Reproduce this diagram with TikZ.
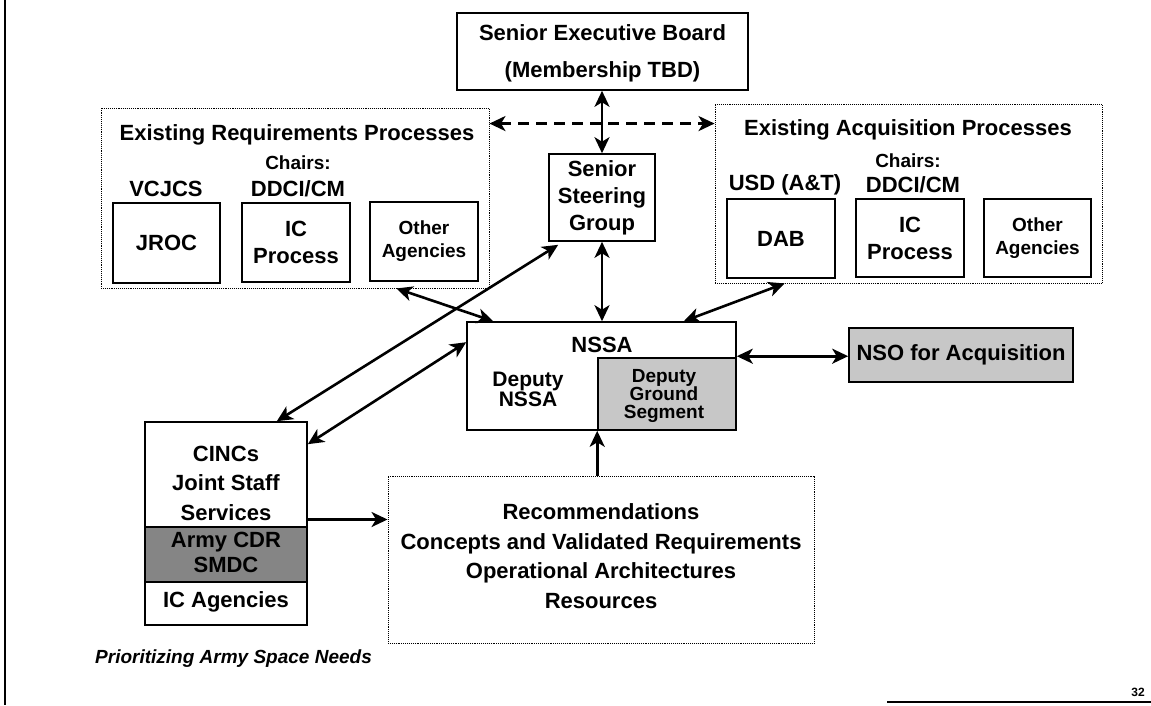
\documentclass[tikz,border=0pt]{standalone}
\usepackage{fontspec}
\setmainfont{Liberation Sans}
\usetikzlibrary{arrows.meta,calc}
\tikzset{
  box/.style={draw, line width=1.6pt, inner sep=0pt, align=center},
  dotbox/.style={draw, densely dotted, line width=0.9pt, inner sep=0pt},
  big/.style={font=\fontsize{22}{27}\selectfont\bfseries, inner sep=0pt, align=center},
  mid/.style={font=\fontsize{19}{23}\selectfont\bfseries, inner sep=0pt, align=center},
  tip/.tip={Stealth[length=16pt,width=15pt,inset=4.5pt]},
  link/.style={line width=2.6pt, tip-tip},
  onelink/.style={line width=2.6pt, -tip},
  dlink/.style={line width=2.8pt, tip-tip, dash pattern=on 11pt off 7pt},
}
\begin{document}
\begin{tikzpicture}[x=1pt,y=-1pt]
\useasboundingbox (0,0) rectangle (1151,705);
% frame lines
\draw[line width=2pt] (5,0) -- (5,705);
\draw[line width=1.4pt] (887,702) -- (1151,702);
\node[font=\fontsize{12}{14}\selectfont\bfseries, inner sep=0pt] (pg) at (1138,692) {32};

% Senior Executive Board
\node[box, minimum width=291pt, minimum height=77pt] (seb) at (602.5,51.5) {};
\node[big] (sebt1) at (602.5,33) {Senior Executive Board};
\node[big] (sebt2) at (602.5,72) {(Membership TBD)};

% Existing Requirements Processes
\node[dotbox, minimum width=388pt, minimum height=180pt] (lreq) at (295,198) {};
\node[big] (lreqt) at (297,135) {Existing Requirements Processes};
\node[mid] (lch) at (298,163) {Chairs:};
\node[big] (vcj) at (166,189) {VCJCS};
\node[big] (ddl) at (298,189) {DDCI/CM};
\node[box, big, minimum width=107pt, minimum height=80pt] (jroc) at (166.5,243) {JROC};
\node[box, big, minimum width=108pt, minimum height=79pt] (icl) at (296,242.5) {IC\\Process};
\node[box, mid, minimum width=108pt, minimum height=79pt] (othl) at (424,241.5) {Other\\Agencies};

% Existing Acquisition Processes
\node[dotbox, minimum width=387pt, minimum height=179pt] (racq) at (908.5,193.5) {};
\node[big] (racqt) at (908,130) {Existing Acquisition Processes};
\node[mid] (rch) at (908,161) {Chairs:};
\node[big] (usd) at (785,185) {USD (A\&T)};
\node[big] (ddr) at (913,185) {DDCI/CM};
\node[box, big, minimum width=108pt, minimum height=79pt] (dab) at (781,238.5) {DAB};
\node[box, big, minimum width=108pt, minimum height=78pt] (icr) at (910,238) {IC\\Process};
\node[box, mid, minimum width=107pt, minimum height=78pt] (othr) at (1037.5,238) {Other\\Agencies};

% Senior Steering Group
\node[box, big, minimum width=106pt, minimum height=87pt] (ssg) at (602,197.5) {Senior\\Steering\\Group};

% NSSA
\node[box, minimum width=269pt, minimum height=108pt] (nssa) at (601.5,376) {};
\node[box, fill=black!22, minimum width=138pt, minimum height=72pt] (dgs) at (667,394) {};
\node[big] (nssat) at (602,345) {NSSA};
\node[font=\fontsize{21}{18}\selectfont\bfseries, inner sep=0pt, align=center] (dn) at (528,389) {Deputy\\NSSA};
\node[font=\fontsize{19}{18}\selectfont\bfseries, inner sep=0pt, align=center] (dgst) at (664,396) {Deputy\\Ground\\Segment};

% NSO for Acquisition
\node[box, big, fill=black!22, minimum width=224pt, minimum height=54pt] (nso) at (961,355) {NSO for Acquisition};

% CINCs column
\node[box, minimum width=162pt, minimum height=203pt] (cincs) at (226,523.5) {};
\node[box, fill=black!48, minimum width=162pt, minimum height=55pt] (army) at (226,554.5) {};
\node[font=\fontsize{22}{29.5}\selectfont\bfseries, inner sep=0pt, align=center] (cinct) at (226,483) {CINCs\\Joint Staff\\Services};
\node[font=\fontsize{22}{25}\selectfont\bfseries, inner sep=0pt, align=center] (armyt) at (226,552) {Army CDR\\SMDC};
\node[big] (ica) at (226,602) {IC Agencies};

% Recommendations
\node[dotbox, minimum width=426pt, minimum height=167pt] (rec) at (601,559.5) {};
\node[font=\fontsize{22}{29.7}\selectfont\bfseries, inner sep=0pt, align=center] (rect) at (601,556) {Recommendations\\Concepts and Validated Requirements\\Operational Architectures\\Resources};

% caption
\node[font=\fontsize{19}{22}\selectfont\bfseries\itshape, inner sep=0pt, anchor=west] (cap) at (95,659) {Prioritizing Army Space Needs};

% connectors
\draw[dlink] ([yshift=-16pt]lreq.north east) -- ([yshift=-20pt]racq.north west);
\draw[link] (ssg.north |- seb.south) -- (ssg.north);
\draw[link] (ssg.south) -- (ssg.south |- nssa.north);
\draw[onelink] (dgs.south west |- rec.north) -- (dgs.south west);
\draw[onelink] ([yshift=4pt]cincs.east) -- ([yshift=4pt]cincs.east -| rec.west);
\draw[link] ([yshift=-35pt]nssa.north east) -- ([yshift=-35pt]nssa.north east -| nso.west);
\draw[link] ([xshift=10pt,yshift=-3pt]ssg.south west) -- ([xshift=-31pt]cincs.north east);
\draw[link] ([yshift=-21pt]nssa.north west) -- ([yshift=-23pt]cincs.north east);
\draw[link] ([xshift=-93pt]lreq.south east) -- ([xshift=27pt]nssa.north west);
\draw[link] ([xshift=70pt]racq.south west) -- ([xshift=-53pt]nssa.north east);
\end{tikzpicture}
\end{document}
